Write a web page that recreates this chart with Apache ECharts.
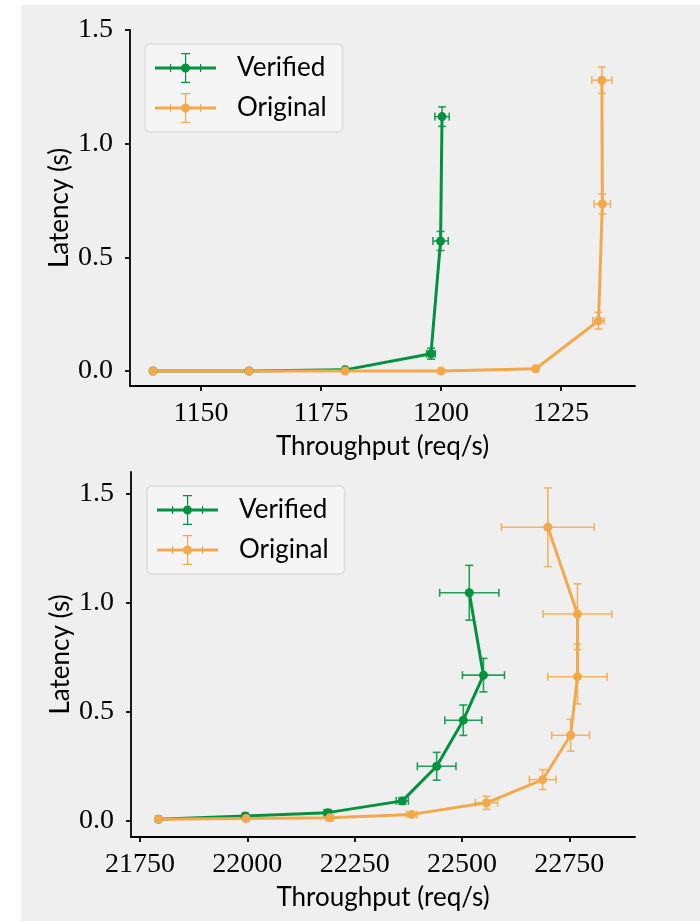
<!DOCTYPE html>
<html>
<head>
<meta charset="utf-8">
<script src="https://cdn.jsdelivr.net/npm/echarts@6/dist/echarts.min.js"></script>
<style>
  body { margin: 0; background: #fff; }
  #bg { position: absolute; left: 21px; top: 5px; width: 679px; height: 916px; background: #efefef; }
  #main { position: absolute; left: 0; top: 0; width: 700px; height: 921px; }
</style>
</head>
<body>
<div id="bg"></div>
<div id="main"></div>
<script>
// top panel (low throughput run)
var topVerX    = [1140, 1160, 1180, 1197.9, 1199.9, 1200.2];
var topVerY    = [0.0, 0.0, 0.005, 0.076, 0.572, 1.119];
var topVerXErr = [0.3, 0.3, 0.4, 0.9, 1.6, 1.5];
var topVerYErr = [0.001, 0.001, 0.002, 0.024, 0.042, 0.043];

var topOrgX    = [1140, 1160, 1180, 1200, 1219.7, 1232.8, 1233.6, 1233.5];
var topOrgY    = [0.0, 0.0, 0.0, 0.0, 0.01, 0.221, 0.735, 1.279];
var topOrgXErr = [0.3, 0.3, 0.3, 0.3, 0.5, 1.2, 1.7, 2.1];
var topOrgYErr = [0.001, 0.001, 0.001, 0.001, 0.003, 0.037, 0.044, 0.058];

// bottom panel (high throughput run)
var botVerX    = [21793, 21995, 22187, 22361, 22441, 22503, 22550, 22517];
var botVerY    = [0.005, 0.02, 0.035, 0.089, 0.248, 0.46, 0.667, 1.046];
var botVerXErr = [5, 6, 8, 14, 45, 43, 49, 69];
var botVerYErr = [0.002, 0.004, 0.006, 0.015, 0.064, 0.07, 0.077, 0.126];

var botOrgX    = [21793, 21997, 22192, 22383, 22557, 22688, 22753, 22769, 22769, 22700];
var botOrgY    = [0.005, 0.008, 0.011, 0.027, 0.08, 0.187, 0.391, 0.66, 0.948, 1.347];
var botOrgXErr = [5, 6, 8, 12, 26, 31, 44, 69, 80, 108];
var botOrgYErr = [0.002, 0.003, 0.004, 0.008, 0.03, 0.046, 0.073, 0.125, 0.139, 0.181];

var topXTicks = [1150, 1175, 1200, 1225];
var botXTicks = [21750, 22000, 22250, 22500, 22750];
var yTicks = [0, 0.5, 1.0, 1.5];

var names = ['Verified', 'Original'];
var colors = ['#00923f', '#f3a94b'];

var sansFont = 'Lato';
var serifFont = 'Liberation Serif';

// legend glyph: line + marker + x/y error bars
var legendIcon = 'path://M0 13.6h61v2.8H0z M30 0h1.2v30h-1.2z M26 0h9v1.2h-9z M26 28.8h9v1.2h-9z ' +
    'M15 11h1.2v8h-1.2z M45 11h1.2v8h-1.2z M35 15a4.5 4.5 0 1 1 -9 0a4.5 4.5 0 1 1 9 0z';

function zip(xs, ys, xe, ye) {
    var out = [];
    for (var i = 0; i < xs.length; i++) {
        out.push([xs[i], ys[i], xe[i], ye[i]]);
    }
    return out;
}

function errorBars(params, api) {
    var x = api.value(0), y = api.value(1), ex = api.value(2), ey = api.value(3);
    var p0 = api.coord([x - ex, y]), p1 = api.coord([x + ex, y]);
    var q0 = api.coord([x, y - ey]), q1 = api.coord([x, y + ey]);
    var cap = 4;
    var color = api.visual('color');
    function seg(x1, y1, x2, y2) {
        return {
            type: 'line',
            shape: { x1: x1, y1: y1, x2: x2, y2: y2 },
            style: { stroke: color, lineWidth: 1.6, opacity: 0.85 }
        };
    }
    return {
        type: 'group',
        children: [
            seg(p0[0], p0[1], p1[0], p1[1]),
            seg(p0[0], p0[1] - cap, p0[0], p0[1] + cap),
            seg(p1[0], p1[1] - cap, p1[0], p1[1] + cap),
            seg(q0[0], q0[1], q1[0], q1[1]),
            seg(q0[0] - cap, q0[1], q0[0] + cap, q0[1]),
            seg(q1[0] - cap, q1[1], q1[0] + cap, q1[1])
        ]
    };
}

function makeSeries(name, color, axis, xs, ys, xe, ye) {
    var data = zip(xs, ys, xe, ye);
    return [
        {
            name: name,
            type: 'custom',
            xAxisIndex: axis,
            yAxisIndex: axis,
            renderItem: errorBars,
            itemStyle: { color: color },
            encode: { x: 0, y: 1 },
            data: data,
            silent: true
        },
        {
            name: name,
            type: 'line',
            xAxisIndex: axis,
            yAxisIndex: axis,
            data: data.map(function (d) { return [d[0], d[1]]; }),
            symbol: 'circle',
            symbolSize: 9,
            itemStyle: { color: color },
            lineStyle: { color: color, width: 3 },
            silent: true
        }
    ];
}

function xAxis(grid, min, max, ticks) {
    return {
        type: 'value',
        gridIndex: grid,
        min: min,
        max: max,
        name: 'Throughput (req/s)',
        nameLocation: 'middle',
        nameGap: 48,
        nameMoveOverlap: false,
        nameTextStyle: { fontFamily: sansFont, fontSize: 26, color: '#000' },
        axisLine: { show: true, onZero: false, lineStyle: { color: '#000', width: 1.8 } },
        axisTick: { show: true, inside: false, length: 5, lineStyle: { color: '#000', width: 1.8 }, customValues: ticks },
        axisLabel: {
            margin: 14, fontFamily: serifFont, fontSize: 28, color: '#000', customValues: ticks,
            formatter: function (v) { return String(v); }
        },
        splitLine: { show: false }
    };
}

function yAxis(grid, min, max) {
    return {
        type: 'value',
        gridIndex: grid,
        min: min,
        max: max,
        name: 'Latency (s)',
        nameLocation: 'middle',
        nameGap: 57,
        nameMoveOverlap: false,
        nameTextStyle: { fontFamily: sansFont, fontSize: 26, color: '#000' },
        axisLine: { show: true, onZero: false, lineStyle: { color: '#000', width: 1.8 } },
        axisTick: { show: true, inside: false, length: 5, lineStyle: { color: '#000', width: 1.8 }, customValues: yTicks },
        axisLabel: {
            margin: 17, fontFamily: serifFont, fontSize: 28, color: '#000', customValues: yTicks,
            formatter: function (v) { return v.toFixed(1); }
        },
        splitLine: { show: false }
    };
}

function legend(left, top) {
    return {
        left: left,
        top: top,
        orient: 'vertical',
        itemWidth: 61,
        itemHeight: 30,
        itemGap: 10,
        padding: [9, 16, 9, 10],
        backgroundColor: '#f5f5f5',
        borderColor: '#dcdcdc',
        borderWidth: 1.5,
        borderRadius: 5,
        selectedMode: false,
        itemStyle: { borderWidth: 0 },
        textStyle: { fontFamily: sansFont, fontSize: 26, color: '#000', padding: [0, 0, 0, 16] },
        data: names.map(function (n) { return { name: n, icon: legendIcon }; })
    };
}

var series = [].concat(
    makeSeries(names[0], colors[0], 0, topVerX, topVerY, topVerXErr, topVerYErr),
    makeSeries(names[1], colors[1], 0, topOrgX, topOrgY, topOrgXErr, topOrgYErr),
    makeSeries(names[0], colors[0], 1, botVerX, botVerY, botVerXErr, botVerYErr),
    makeSeries(names[1], colors[1], 1, botOrgX, botOrgY, botOrgXErr, botOrgYErr)
);

var chart = echarts.init(document.getElementById('main'), null, { renderer: 'canvas' });
chart.setOption({
    animation: false,
    backgroundColor: 'transparent',
    grid: [
        { left: 130, top: 30, width: 505, height: 356 },
        { left: 131, top: 472, width: 504, height: 365 }
    ],
    xAxis: [
        xAxis(0, 1135.2, 1240.4, topXTicks),
        xAxis(1, 21729, 22903, botXTicks)
    ],
    yAxis: [
        yAxis(0, -0.066, 1.5),
        yAxis(1, -0.077, 1.601)
    ],
    legend: [legend(145, 44), legend(147, 486)],
    series: series
});
</script>
</body>
</html>
